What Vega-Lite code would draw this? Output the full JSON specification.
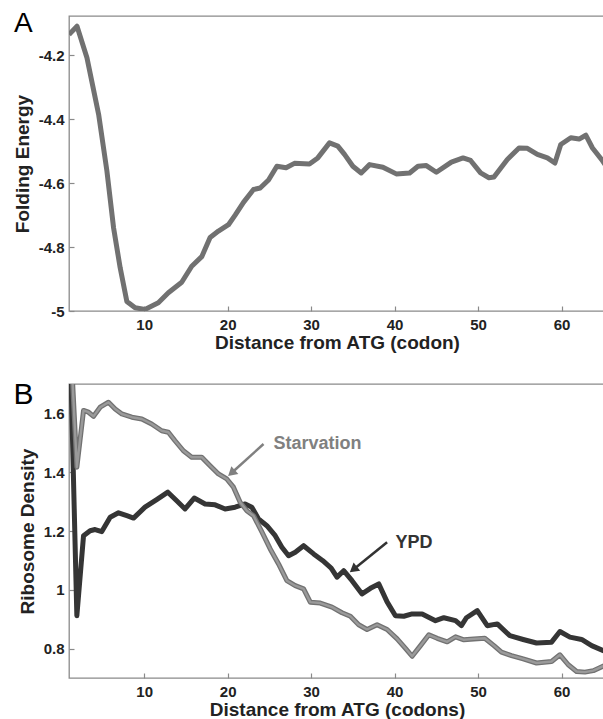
{
  "$schema": "https://vega.github.io/schema/vega-lite/v6.json",
  "autosize": {"type": "pad"},
  "padding": {"left": 12, "top": 9, "right": 0, "bottom": 0},
  "background": "white",
  "spacing": 73,
  "bounds": "flush",
  "config": {
    "font": "Liberation Sans",
    "view": {"stroke": "#8a8a8a", "strokeWidth": 1.3},
    "axis": {
      "labelFont": "Liberation Sans",
      "labelFontWeight": "bold",
      "labelFontSize": 15,
      "labelColor": "#222222",
      "titleFont": "Liberation Sans",
      "titleFontWeight": "bold",
      "titleFontSize": 19,
      "titleColor": "#222222",
      "domain": false,
      "tickColor": "#8a8a8a",
      "tickWidth": 1.2,
      "tickSize": -5,
      "zindex": 1,
      "grid": false
    }
  },
  "datasets": {
    "folding": [
      {"d": 1.0, "energy": -4.135}, {"d": 1.96, "energy": -4.109}, {"d": 3.15, "energy": -4.208},
      {"d": 4.55, "energy": -4.385}, {"d": 5.54, "energy": -4.562}, {"d": 6.34, "energy": -4.74},
      {"d": 7.13, "energy": -4.865}, {"d": 7.93, "energy": -4.97}, {"d": 8.92, "energy": -4.99},
      {"d": 10.1, "energy": -4.995}, {"d": 11.7, "energy": -4.974}, {"d": 12.9, "energy": -4.943},
      {"d": 14.5, "energy": -4.91}, {"d": 15.7, "energy": -4.86}, {"d": 16.9, "energy": -4.83},
      {"d": 17.9, "energy": -4.77}, {"d": 18.9, "energy": -4.75}, {"d": 20.1, "energy": -4.73},
      {"d": 20.9, "energy": -4.70}, {"d": 21.9, "energy": -4.66}, {"d": 23.1, "energy": -4.62},
      {"d": 23.9, "energy": -4.615}, {"d": 24.9, "energy": -4.59}, {"d": 25.9, "energy": -4.547},
      {"d": 27.0, "energy": -4.552}, {"d": 28.0, "energy": -4.538}, {"d": 29.8, "energy": -4.54},
      {"d": 30.8, "energy": -4.521}, {"d": 32.2, "energy": -4.474}, {"d": 33.2, "energy": -4.484},
      {"d": 34.0, "energy": -4.51}, {"d": 35.0, "energy": -4.547}, {"d": 36.0, "energy": -4.568},
      {"d": 37.0, "energy": -4.542}, {"d": 38.6, "energy": -4.55}, {"d": 40.2, "energy": -4.571},
      {"d": 41.8, "energy": -4.568}, {"d": 42.8, "energy": -4.547}, {"d": 43.8, "energy": -4.545},
      {"d": 45.0, "energy": -4.566}, {"d": 46.8, "energy": -4.534}, {"d": 48.2, "energy": -4.521},
      {"d": 49.1, "energy": -4.529}, {"d": 50.3, "energy": -4.568}, {"d": 51.3, "energy": -4.583},
      {"d": 51.9, "energy": -4.581}, {"d": 53.5, "energy": -4.526}, {"d": 54.9, "energy": -4.49},
      {"d": 55.9, "energy": -4.491}, {"d": 57.1, "energy": -4.51}, {"d": 58.3, "energy": -4.521},
      {"d": 59.2, "energy": -4.537}, {"d": 59.9, "energy": -4.479}, {"d": 61.1, "energy": -4.458},
      {"d": 62.1, "energy": -4.462}, {"d": 62.9, "energy": -4.45}, {"d": 63.7, "energy": -4.49},
      {"d": 64.9, "energy": -4.53}, {"d": 65.3, "energy": -4.545}
    ],
    "ypd": [
      {"d": 1.0, "density": 2.0}, {"d": 1.94, "density": 0.912}, {"d": 2.74, "density": 1.184},
      {"d": 3.53, "density": 1.201}, {"d": 4.13, "density": 1.205}, {"d": 4.93, "density": 1.198},
      {"d": 5.93, "density": 1.247}, {"d": 6.93, "density": 1.262}, {"d": 7.93, "density": 1.252},
      {"d": 8.73, "density": 1.244}, {"d": 10.1, "density": 1.281}, {"d": 11.5, "density": 1.307},
      {"d": 12.84, "density": 1.332}, {"d": 13.9, "density": 1.303}, {"d": 14.9, "density": 1.275},
      {"d": 16.0, "density": 1.312}, {"d": 17.3, "density": 1.292}, {"d": 18.5, "density": 1.289},
      {"d": 19.7, "density": 1.275}, {"d": 20.9, "density": 1.281}, {"d": 22.1, "density": 1.292},
      {"d": 22.9, "density": 1.281}, {"d": 23.7, "density": 1.241}, {"d": 24.7, "density": 1.218},
      {"d": 25.7, "density": 1.184}, {"d": 26.5, "density": 1.145}, {"d": 27.3, "density": 1.116},
      {"d": 28.1, "density": 1.128}, {"d": 29.1, "density": 1.150}, {"d": 30.3, "density": 1.122},
      {"d": 31.4, "density": 1.099}, {"d": 32.4, "density": 1.074}, {"d": 33.1, "density": 1.043},
      {"d": 33.9, "density": 1.065}, {"d": 34.9, "density": 1.031}, {"d": 36.1, "density": 0.986},
      {"d": 37.1, "density": 1.005}, {"d": 38.1, "density": 1.020}, {"d": 39.1, "density": 0.959},
      {"d": 40.1, "density": 0.912}, {"d": 41.1, "density": 0.910}, {"d": 42.1, "density": 0.918},
      {"d": 43.3, "density": 0.918}, {"d": 44.9, "density": 0.895}, {"d": 45.9, "density": 0.905},
      {"d": 47.3, "density": 0.895}, {"d": 48.0, "density": 0.878}, {"d": 48.6, "density": 0.905},
      {"d": 49.9, "density": 0.929}, {"d": 51.1, "density": 0.878}, {"d": 52.3, "density": 0.884},
      {"d": 53.8, "density": 0.844}, {"d": 55.4, "density": 0.831}, {"d": 57.0, "density": 0.819},
      {"d": 58.8, "density": 0.822}, {"d": 59.8, "density": 0.858}, {"d": 61.0, "density": 0.839},
      {"d": 62.4, "density": 0.831}, {"d": 63.6, "density": 0.810}, {"d": 65.0, "density": 0.793},
      {"d": 65.3, "density": 0.790}
    ],
    "starvation": [
      {"d": 1.0, "density": 1.95}, {"d": 1.94, "density": 1.417}, {"d": 2.74, "density": 1.610},
      {"d": 3.34, "density": 1.604}, {"d": 3.94, "density": 1.590}, {"d": 4.73, "density": 1.621},
      {"d": 5.73, "density": 1.638}, {"d": 6.53, "density": 1.615}, {"d": 7.33, "density": 1.598},
      {"d": 8.53, "density": 1.587}, {"d": 9.72, "density": 1.581}, {"d": 10.9, "density": 1.564},
      {"d": 12.1, "density": 1.541}, {"d": 12.9, "density": 1.536}, {"d": 13.7, "density": 1.507},
      {"d": 14.7, "density": 1.473}, {"d": 15.7, "density": 1.451}, {"d": 16.9, "density": 1.451},
      {"d": 17.9, "density": 1.422}, {"d": 18.9, "density": 1.394}, {"d": 19.9, "density": 1.377},
      {"d": 20.7, "density": 1.349}, {"d": 21.5, "density": 1.298}, {"d": 22.3, "density": 1.269},
      {"d": 23.1, "density": 1.252}, {"d": 24.1, "density": 1.197}, {"d": 25.1, "density": 1.139},
      {"d": 26.1, "density": 1.088}, {"d": 27.1, "density": 1.031}, {"d": 28.1, "density": 1.014},
      {"d": 29.1, "density": 1.003}, {"d": 29.9, "density": 0.958}, {"d": 31.1, "density": 0.955},
      {"d": 32.5, "density": 0.941}, {"d": 33.7, "density": 0.922}, {"d": 34.7, "density": 0.910},
      {"d": 35.7, "density": 0.881}, {"d": 36.7, "density": 0.865}, {"d": 37.9, "density": 0.881},
      {"d": 39.1, "density": 0.865}, {"d": 40.3, "density": 0.833}, {"d": 41.3, "density": 0.801},
      {"d": 42.1, "density": 0.774}, {"d": 43.1, "density": 0.810}, {"d": 44.1, "density": 0.847},
      {"d": 45.1, "density": 0.835}, {"d": 46.3, "density": 0.823}, {"d": 47.3, "density": 0.840},
      {"d": 48.3, "density": 0.830}, {"d": 49.5, "density": 0.833}, {"d": 50.8, "density": 0.835},
      {"d": 51.9, "density": 0.810}, {"d": 52.8, "density": 0.788}, {"d": 54.0, "density": 0.776},
      {"d": 55.4, "density": 0.765}, {"d": 57.0, "density": 0.751}, {"d": 58.8, "density": 0.756},
      {"d": 59.8, "density": 0.779}, {"d": 60.8, "density": 0.745}, {"d": 61.8, "density": 0.722},
      {"d": 62.8, "density": 0.720}, {"d": 63.8, "density": 0.725}, {"d": 65.1, "density": 0.742},
      {"d": 65.3, "density": 0.745}
    ],
    "arrowShafts": [
      {"series": "Starvation", "d": 24.3, "density": 1.496, "d2": 20.5, "density2": 1.398},
      {"series": "YPD", "d": 39.1, "density": 1.162, "d2": 35.1, "density2": 1.070}
    ],
    "arrowHeads": [
      {"series": "Starvation", "d": 20.46, "density": 1.397, "angle": 228},
      {"series": "YPD", "d": 35.06, "density": 1.069, "angle": 231}
    ],
    "labels": [
      {"series": "Starvation", "d": 25.5, "density": 1.496},
      {"series": "YPD", "d": 40.1, "density": 1.158}
    ]
  },
  "vconcat": [
    {
      "width": 536,
      "height": 295,
      "title": {"text": "A", "anchor": "start", "frame": "group", "orient": "top", "baseline": "top", "offset": -22, "dx": -55, "font": "Liberation Sans", "fontSize": 28, "fontWeight": "normal", "color": "#000000"},
      "data": {"name": "folding"},
      "mark": {"type": "line", "color": "#717171", "strokeWidth": 5, "clip": true, "strokeJoin": "round"},
      "encoding": {
        "x": {"field": "d", "type": "quantitative", "scale": {"domain": [1, 65.2], "nice": false, "zero": false},
          "axis": {"orient": "bottom", "values": [10, 20, 30, 40, 50, 60], "title": "Distance from ATG (codon)", "labelPadding": 11, "titlePadding": 1}},
        "y": {"field": "energy", "type": "quantitative", "scale": {"domain": [-5, -4.077], "nice": false, "zero": false},
          "axis": {"orient": "left", "values": [-5, -4.8, -4.6, -4.4, -4.2], "labelExpr": "'' + datum.value", "title": "Folding Energy", "labelPadding": 10, "titlePadding": 6}}
      }
    },
    {
      "width": 536,
      "height": 294,
      "title": {"text": "B", "anchor": "start", "frame": "group", "orient": "top", "baseline": "top", "offset": -26, "dx": -55.5, "font": "Liberation Sans", "fontSize": 30, "fontWeight": "normal", "color": "#000000"},
      "encoding": {
        "x": {"field": "d", "type": "quantitative", "scale": {"domain": [1, 65.2], "nice": false, "zero": false},
          "axis": {"orient": "bottom", "values": [10, 20, 30, 40, 50, 60], "title": "Distance from ATG (codons)", "labelPadding": 11, "titlePadding": 1}},
        "y": {"field": "density", "type": "quantitative", "scale": {"domain": [0.7, 1.7], "nice": false, "zero": false},
          "axis": {"orient": "left", "values": [0.8, 1, 1.2, 1.4, 1.6], "labelExpr": "'' + datum.value", "title": "Ribosome Density", "labelPadding": 10, "titlePadding": 6}}
      },
      "layer": [
        {
          "data": {"name": "ypd"},
          "mark": {"type": "line", "color": "#353535", "strokeWidth": 5, "clip": true, "strokeJoin": "round"}
        },
        {
          "data": {"name": "starvation"},
          "mark": {"type": "line", "color": "#727272", "strokeWidth": 5, "clip": true, "strokeJoin": "round"}
        },
        {
          "data": {"name": "starvation"},
          "mark": {"type": "line", "color": "#9a9a9a", "strokeWidth": 2.4, "clip": true, "strokeJoin": "round"}
        },
        {
          "data": {"name": "arrowShafts"},
          "mark": {"type": "rule", "strokeWidth": 2.5},
          "encoding": {
            "x2": {"field": "d2"},
            "y2": {"field": "density2"},
            "color": {"field": "series", "type": "nominal", "scale": {"domain": ["Starvation", "YPD"], "range": ["#808080", "#333333"]}, "legend": null}
          }
        },
        {
          "data": {"name": "arrowHeads"},
          "mark": {"type": "point", "shape": "triangle-up", "filled": true, "size": 110, "opacity": 1},
          "encoding": {
            "angle": {"field": "angle", "type": "quantitative", "scale": null},
            "color": {"field": "series", "type": "nominal", "scale": {"domain": ["Starvation", "YPD"], "range": ["#808080", "#333333"]}, "legend": null}
          }
        },
        {
          "data": {"name": "labels"},
          "mark": {"type": "text", "align": "left", "baseline": "middle", "font": "Liberation Sans", "fontWeight": "bold", "fontSize": 18},
          "encoding": {
            "text": {"field": "series"},
            "color": {"field": "series", "type": "nominal", "scale": {"domain": ["Starvation", "YPD"], "range": ["#808080", "#333333"]}, "legend": null}
          }
        }
      ]
    }
  ]
}
